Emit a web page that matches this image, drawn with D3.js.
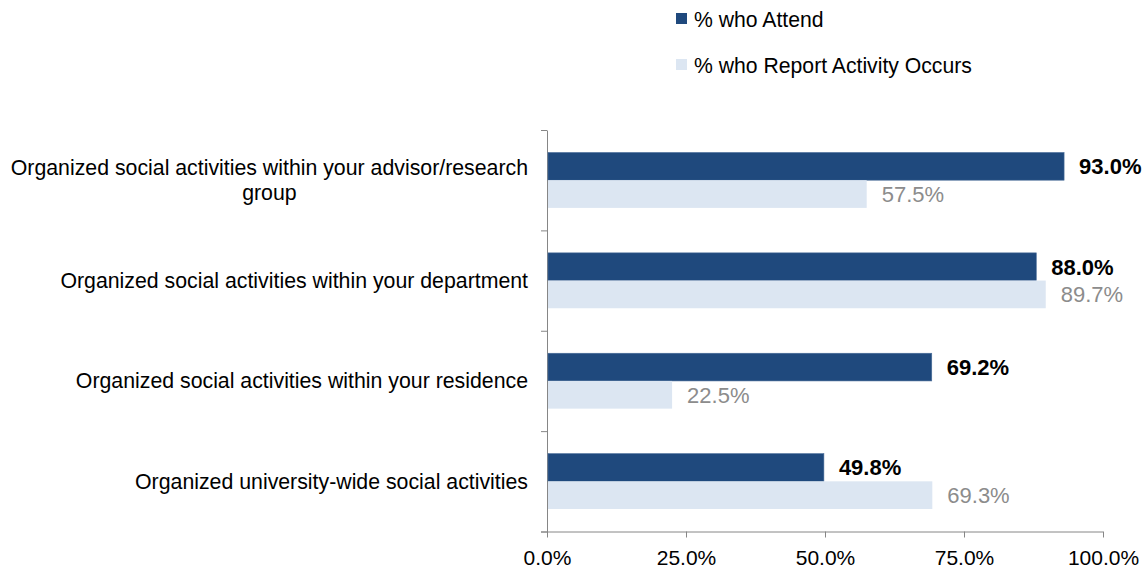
<!DOCTYPE html>
<html lang="en">
<head>
    <meta charset="UTF-8">
    <title>Social Activities</title>
    <script src="https://d3js.org/d3.v7.min.js"></script>
    <style>
        body {
            margin: 0;
            background: #fff;
            font-family: Arial, 'Liberation Sans', sans-serif;
        }
        svg { display: block; }
        .axis path, .axis line { stroke: #868686; }
        .axis text { font-size: 21px; fill: #000; }
    </style>
</head>
<body>
<div id="chart"></div>
<script>
    const categories = [
        "Organized social activities within your advisor/research|group",
        "Organized social activities within your department",
        "Organized social activities within your residence",
        "Organized university-wide social activities"
    ];
    const seriesNames = ["% who Attend", "% who Report Activity Occurs"];
    const attend = [93.0, 88.0, 69.2, 49.8];
    const occurs = [57.5, 89.7, 22.5, 69.3];
    const xTicks = [0, 25, 50, 75, 100];
    const colors = ["#1f497d", "#dce6f2"];

    const width = 1147, height = 569;
    const m = { left: 547, right: 1103, top: 130, bottom: 531.5 };

    const svg = d3.select("#chart").append("svg")
        .attr("width", width)
        .attr("height", height);

    const x = d3.scaleLinear().domain([0, 100]).range([m.left, m.right]);
    const y = d3.scaleBand().domain(categories).range([m.top, m.bottom]);
    const barH = 27.7;
    const y1 = d3.scaleBand().domain(seriesNames)
        .range([y.bandwidth() / 2 - barH, y.bandwidth() / 2 + barH]);

    // bottom axis
    svg.append("g")
        .attr("class", "axis")
        .attr("transform", `translate(0,${m.bottom})`)
        .call(d3.axisBottom(x).tickValues(xTicks).tickSize(6).tickSizeOuter(0)
            .tickFormat(d => d.toFixed(1) + "%"))
        .call(g => g.select(".domain").attr("d", `M${m.left - 6},0.5H${m.right}`))
        .selectAll("text").attr("y", 19).attr("dy", "0.71em");

    // left axis, ticks at category boundaries
    const yIdx = d3.scaleLinear().domain([0, categories.length]).range([m.top, m.bottom]);
    svg.append("g")
        .attr("class", "axis")
        .attr("transform", `translate(${m.left},0)`)
        .call(d3.axisLeft(yIdx).ticks(categories.length).tickSize(6).tickSizeOuter(0).tickFormat(""));

    const data = categories.map((c, i) => ({ cat: c, values: [attend[i], occurs[i]] }));

    const groups = svg.selectAll(".grp")
        .data(data)
        .enter().append("g")
        .attr("class", "grp")
        .attr("transform", d => `translate(0,${y(d.cat)})`);

    groups.selectAll("rect")
        .data(d => d.values.map((v, j) => ({ v, s: seriesNames[j], j })))
        .enter().append("rect")
        .attr("x", x(0) + 1)
        .attr("y", d => y1(d.s))
        .attr("width", d => x(d.v) - x(0) - 1)
        .attr("height", y1.bandwidth())
        .attr("fill", d => colors[d.j])
        .attr("stroke", d => d.j === 0 ? "#4a6d99" : "none")
        .attr("stroke-width", 0.6);

    groups.selectAll(".val")
        .data(d => d.values.map((v, j) => ({ v, s: seriesNames[j], j })))
        .enter().append("text")
        .attr("class", "val")
        .attr("x", d => x(d.v) + 15)
        .attr("y", d => y1(d.s) + y1.bandwidth() / 2 + 8)
        .style("font-size", "22px")
        .style("font-weight", d => d.j === 0 ? "bold" : "normal")
        .style("fill", d => d.j === 0 ? "#000" : "#8c8c8c")
        .text(d => d.v.toFixed(1) + "%");

    // category labels (multi-line ones centred on their widest line)
    const lineH = 25;
    groups.each(function (d) {
        const g = d3.select(this);
        const lines = d.cat.split("|");
        const t = g.append("text")
            .style("font-size", "21.3px")
            .style("fill", "#000");
        const spans = lines.map((ln, k) => t.append("tspan")
            .attr("y", y.bandwidth() / 2 + 7.5 + (k - (lines.length - 1) / 2) * lineH)
            .text(ln));
        const widths = spans.map(s => s.node().getComputedTextLength());
        const maxW = d3.max(widths);
        const rightEdge = 528;
        spans.forEach(s => {
            if (lines.length === 1) {
                s.attr("x", rightEdge).attr("text-anchor", "end");
            } else {
                s.attr("x", rightEdge - maxW / 2).attr("text-anchor", "middle");
            }
        });
    });

    // legend
    const legend = svg.append("g");
    seriesNames.forEach((name, i) => {
        const ly = 13 + i * 46;
        legend.append("rect")
            .attr("x", 676).attr("y", ly)
            .attr("width", 11).attr("height", 11)
            .attr("fill", colors[i]);
        legend.append("text")
            .attr("x", 694).attr("y", ly + 13.5)
            .style("font-size", "21.2px")
            .text(name);
    });
</script>
</body>
</html>
